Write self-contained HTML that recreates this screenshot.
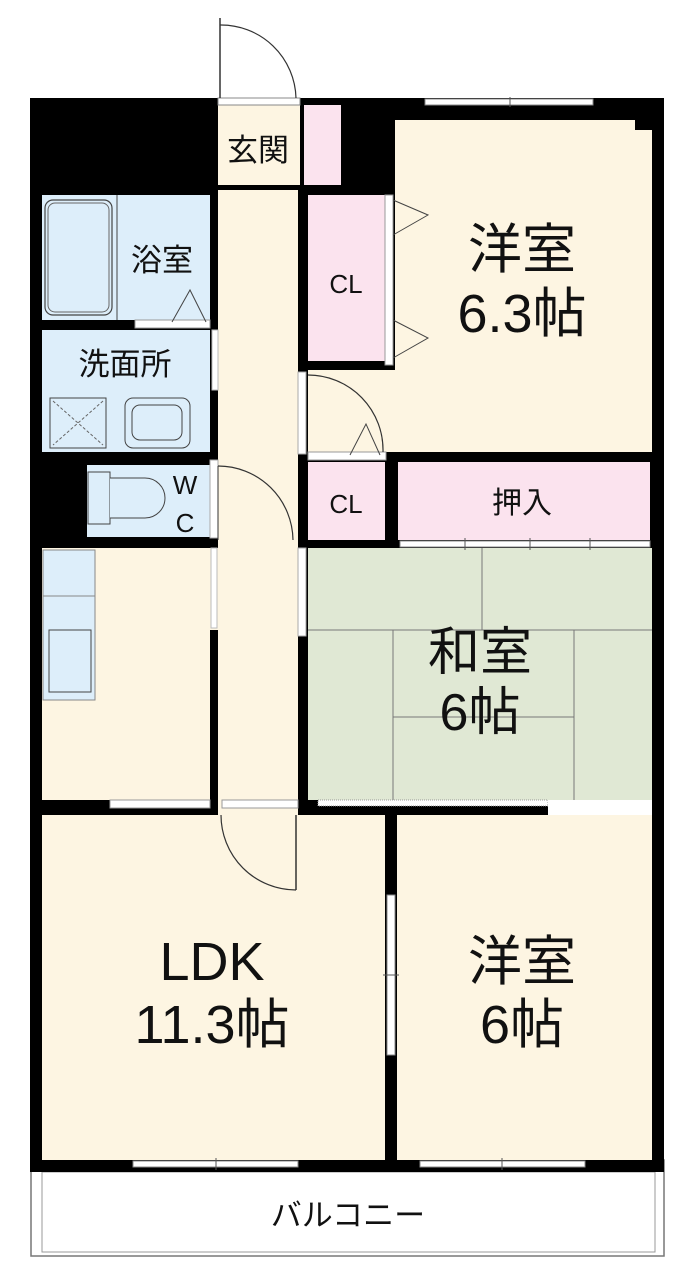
<!DOCTYPE html>
<html><head><meta charset="utf-8"><style>
html,body{margin:0;padding:0;background:#fff;width:700px;height:1272px;overflow:hidden}
svg{display:block}
text{font-family:"Liberation Sans","Noto Sans CJK JP",sans-serif;fill:#111}
</style></head><body>
<svg width="700" height="1272" viewBox="0 0 700 1272" xmlns="http://www.w3.org/2000/svg">
<rect x="31" y="1160" width="633" height="96" fill="#fff" stroke="#777" stroke-width="1.5"/>
<rect x="42" y="1172" width="613" height="80" fill="#fff" stroke="#999" stroke-width="1"/>
<text x="348" y="1226" font-size="31" text-anchor="middle">バルコニー</text>
<rect x="30" y="98" width="634" height="1074" fill="#000"/>
<rect x="218" y="105" width="82" height="80" fill="#fdf5e2"/>
<rect x="304" y="105" width="37" height="80" fill="#fbe3ee"/>
<rect x="218" y="190" width="80" height="625" fill="#fdf5e2"/>
<rect x="395" y="120" width="240" height="332" fill="#fdf5e2"/>
<rect x="635" y="130" width="17" height="322" fill="#fdf5e2"/>
<rect x="308" y="370" width="90" height="82" fill="#fdf5e2"/>
<rect x="308" y="195" width="77" height="166" fill="#fbe3ee"/>
<rect x="42" y="195" width="168" height="125" fill="#ddeefa"/>
<rect x="42" y="330" width="168" height="122" fill="#ddeefa"/>
<rect x="87" y="465" width="123" height="72" fill="#ddeefa"/>
<rect x="308" y="462" width="77" height="78" fill="#fbe3ee"/>
<rect x="398" y="462" width="252" height="78" fill="#fbe3ee"/>
<rect x="42" y="548" width="168" height="252" fill="#fdf5e2"/>
<rect x="308" y="548" width="344" height="252" fill="#e0e8d4"/>
<rect x="42" y="815" width="343" height="345" fill="#fdf5e2"/>
<rect x="397" y="815" width="255" height="345" fill="#fdf5e2"/>
<rect x="218" y="540" width="80" height="275" fill="#fdf5e2"/>
<rect x="210" y="548" width="8" height="252" fill="#fdf5e2"/>
<rect x="210" y="630" width="8" height="170" fill="#000"/>
<rect x="425" y="99" width="168" height="6" fill="#fff" stroke="#888" stroke-width="1"/>
<line x1="510" y1="97" x2="510" y2="107" stroke="#555"/>
<rect x="133" y="1161" width="165" height="6" fill="#fff" stroke="#888"/>
<line x1="216" y1="1158" x2="216" y2="1170" stroke="#555"/>
<rect x="420" y="1161" width="165" height="6" fill="#fff" stroke="#888"/>
<line x1="502" y1="1158" x2="502" y2="1170" stroke="#555"/>
<rect x="400" y="541" width="250" height="6" fill="#fff" stroke="#888"/>
<line x1="465" y1="538" x2="465" y2="550" stroke="#555"/>
<line x1="530" y1="538" x2="530" y2="550" stroke="#555"/>
<line x1="590" y1="538" x2="590" y2="550" stroke="#555"/>
<rect x="218" y="98" width="82" height="7" fill="#fff" stroke="#888"/>
<line x1="220" y1="18" x2="220" y2="98" stroke="#333" stroke-width="1.5"/>
<path d="M220 25 A75 75 0 0 1 296 98" fill="none" stroke="#333" stroke-width="1.2"/>
<g stroke="#777" stroke-width="1" fill="none">
<line x1="482" y1="548" x2="482" y2="630"/>
<line x1="308" y1="630" x2="652" y2="630"/>
<line x1="393" y1="630" x2="393" y2="800"/>
<line x1="574" y1="630" x2="574" y2="800"/>
<line x1="393" y1="717" x2="574" y2="717"/>
</g>
<rect x="318" y="800" width="230" height="6" fill="#fff" stroke="#999" stroke-dasharray="1,1"/>
<rect x="548" y="800" width="104" height="15" fill="#fff"/>
<rect x="110" y="800" width="100" height="8" fill="#fff" stroke="#999"/>
<rect x="222" y="800" width="76" height="8" fill="#fff" stroke="#999"/>
<line x1="296" y1="815" x2="296" y2="890" stroke="#333" stroke-width="1.5"/>
<path d="M221 815 A75 75 0 0 0 296 890" fill="none" stroke="#333" stroke-width="1.2"/>
<rect x="387" y="895" width="8" height="160" fill="#fff" stroke="#888"/>
<line x1="383" y1="975" x2="399" y2="975" stroke="#555"/>
<rect x="210" y="460" width="8" height="78" fill="#fff" stroke="#aaa"/>
<rect x="211" y="548" width="6" height="80" fill="#fff" stroke="#bbb"/>
<rect x="298" y="548" width="8" height="88" fill="#fff" stroke="#aaa"/>
<rect x="298" y="372" width="8" height="82" fill="#fff" stroke="#aaa"/>
<rect x="212" y="330" width="6" height="60" fill="#fff" stroke="#bbb"/>
<path d="M218 466 A75 75 0 0 1 293 540" fill="none" stroke="#333" stroke-width="1.2"/>
<line x1="218" y1="466" x2="218" y2="540" stroke="#333"/>
<rect x="135" y="320" width="75" height="8" fill="#fff" stroke="#999"/>
<path d="M172 322 L190 290 L206 322" fill="none" stroke="#444"/>
<rect x="308" y="452" width="78" height="8" fill="#fff" stroke="#999"/>
<path d="M308 375 A75 75 0 0 1 383 452" fill="none" stroke="#333" stroke-width="1.2"/>
<path d="M350 455 L366 424 L380 455" fill="none" stroke="#444"/>
<rect x="385" y="195" width="8" height="170" fill="#fff" stroke="#999"/>
<path d="M393 200 L428 215 L393 235 M393 320 L428 338 L393 358" fill="none" stroke="#444"/>
<rect x="45" y="200" width="67" height="115" rx="8" fill="#ddeefa" stroke="#444" stroke-width="1.2"/>
<rect x="48" y="203" width="61" height="109" rx="7" fill="none" stroke="#666"/>
<line x1="117" y1="195" x2="117" y2="320" stroke="#444"/>
<rect x="50" y="398" width="56" height="50" fill="#ddeefa" stroke="#444"/>
<path d="M53 401 L103 445 M103 401 L53 445" stroke="#666" stroke-dasharray="3,2"/>
<rect x="125" y="398" width="65" height="50" rx="8" fill="#ddeefa" stroke="#444"/>
<rect x="132" y="405" width="50" height="35" rx="8" fill="none" stroke="#444"/>
<rect x="88" y="472" width="22" height="52" fill="#ddeefa" stroke="#444"/>
<path d="M110 478 L145 478 A20 20 0 0 1 145 518 L110 518" fill="#ddeefa" stroke="#444"/>
<rect x="43" y="550" width="52" height="150" fill="#ddeefa" stroke="#888"/>
<line x1="43" y1="596" x2="95" y2="596" stroke="#888"/>
<rect x="49" y="630" width="42" height="62" fill="#ddeefa" stroke="#444"/>
<rect x="635" y="98" width="29" height="32" fill="#000"/>
<text x="258" y="161" font-size="31" text-anchor="middle">玄関</text>
<text x="162" y="271" font-size="31" text-anchor="middle">浴室</text>
<text x="125" y="375" font-size="31" text-anchor="middle">洗面所</text>
<text x="185" y="494" font-size="26" text-anchor="middle">W</text>
<text x="185" y="532" font-size="26" text-anchor="middle">C</text>
<text x="346" y="293" font-size="26" text-anchor="middle">CL</text>
<text x="346" y="513" font-size="26" text-anchor="middle">CL</text>
<text x="522" y="513" font-size="30" text-anchor="middle">押入</text>
<text x="522" y="268" font-size="54" text-anchor="middle">洋室</text>
<text x="522" y="332" font-size="54" text-anchor="middle">6.3帖</text>
<text x="480" y="670" font-size="52" text-anchor="middle">和室</text>
<text x="480" y="730" font-size="52" text-anchor="middle">6帖</text>
<text x="212" y="980" font-size="54" text-anchor="middle">LDK</text>
<text x="212" y="1043" font-size="54" text-anchor="middle">11.3帖</text>
<text x="522" y="980" font-size="54" text-anchor="middle">洋室</text>
<text x="522" y="1043" font-size="54" text-anchor="middle">6帖</text>
</svg>
</body></html>
